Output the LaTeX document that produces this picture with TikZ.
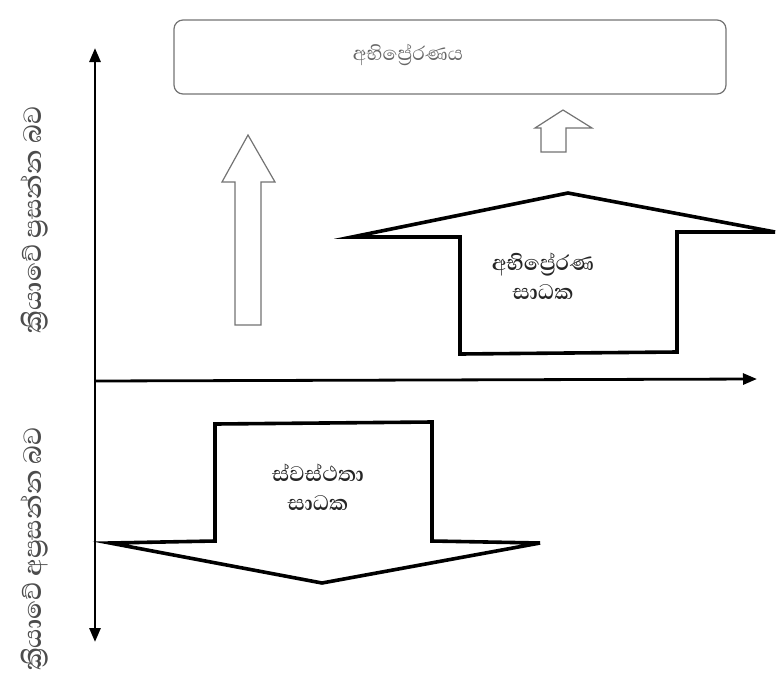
\documentclass[tikz,border=0pt]{standalone}
\usepackage{fontspec}
\newfontfamily\sinhfont[Script=Sinhala]{Abhaya Libre}
\usetikzlibrary{arrows.meta}
\begin{document}
\begin{tikzpicture}[x=1pt,y=-1pt,
  thickshape/.style={draw=black,line width=3.6pt,line join=miter},
  hollowarrow/.style={draw=black!55,line width=1.2pt,fill=white,line join=miter},
  axis/.style={line width=2.8pt,-{Triangle[length=14pt,width=11pt]}},
  lbl/.style={font=\sinhfont\bfseries\fontsize{27}{29}\selectfont,align=center,text=black!85},
  side/.style={font=\sinhfont\bfseries\fontsize{32}{32}\selectfont,rotate=90,text=black!70}]
\useasboundingbox (0,0) rectangle (777,681);
% top box
\node[draw=black!55,line width=1.2pt,rounded corners=9pt,minimum width=552pt,minimum height=74pt] (mot) at (450,57) {};
\node[font=\sinhfont\fontsize{25}{25}\selectfont,text=black!60] (motl) at (408,55) {අභිප්‍රේරණය};
% axes
\coordinate (o) at (95,381);
\coordinate (yt) at (95,48);
\coordinate (yb) at (95,642);
\coordinate (xr) at (757,379);
\draw[axis] (o) -- (yt);
\draw[axis] (o) -- (yb);
\draw[axis] (o) -- (xr);
% hollow arrows
\draw[hollowarrow] (235,325) -- (235,182) -- (222,182) -- (248,135) -- (275,182) -- (261,182) -- (261,325) -- cycle;
\draw[hollowarrow] (541,152) -- (541,128) -- (535,128) -- (563,110) -- (592,128) -- (566,128) -- (566,152) -- cycle;
% motivation factors shape
\draw[thickshape] (352,237) -- (568,193) -- (775,232) -- (677,232) -- (677,352) -- (460,354) -- (460,237) -- cycle;
\node[lbl] (mf) at (543,276) {අභිප්‍රේරණ\\සාධක};
% hygiene factors shape
\draw[thickshape] (215,424) -- (432,422) -- (432,541) -- (540,543) -- (322,583) -- (110,543) -- (215,541) -- cycle;
\node[lbl] (hf) at (318,487) {ස්වස්ථතා\\සාධක};
% side labels
\node[side] (up) at (34,220) {ක්‍රියාවේ ප්‍රසන්න බව};
\node[side] (dn) at (34,549) {ක්‍රියාවේ අප්‍රසන්න බව};
\end{tikzpicture}
\end{document}
